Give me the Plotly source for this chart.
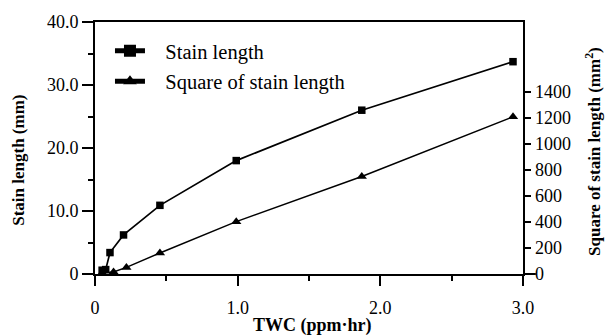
import plotly.graph_objects as go

# Data
twc_sl = [0.05, 0.075, 0.105, 0.20, 0.455, 0.99, 1.87, 2.93]
stain_length = [0.6, 0.7, 3.4, 6.2, 10.9, 18.0, 26.0, 33.7]
twc_sq = [0.05, 0.13, 0.22, 0.455, 0.99, 1.87, 2.93]
square_len = [8, 15, 51, 162, 403, 751, 1210]

x_major = [0, 1, 2, 3]
x_labels = ["0", "1.0", "2.0", "3.0"]
x_minor = [0.5, 1.5, 2.5]
y_major = [0, 10, 20, 30, 40]
y_labels = ["0", "10.0", "20.0", "30.0", "40.0"]
y_minor = [5, 15, 25, 35]
y2_ticks = [0, 200, 400, 600, 800, 1000, 1200, 1400]

SERIF = "Liberation Serif, Times New Roman, serif"
BLACK = "black"

fig = go.Figure()
fig.add_trace(go.Scatter(
    x=twc_sl, y=stain_length, mode="lines+markers",
    name="\u00a0\u00a0\u00a0Stain length", legendgroup="a",
    line=dict(color=BLACK, width=1.7),
    marker=dict(symbol="square", size=7.5, color=BLACK),
    cliponaxis=False,
))
fig.add_trace(go.Scatter(
    x=twc_sq, y=square_len, mode="lines+markers", yaxis="y2",
    name="\u00a0\u00a0\u00a0Square of stain length", legendgroup="b",
    line=dict(color=BLACK, width=1.5),
    marker=dict(symbol="triangle-up", size=9, color=BLACK),
    cliponaxis=False,
))

# short extensions of the frame lines beyond the corners
ext = dict(color=BLACK, width=2)
shapes = [
    dict(type="line", xref="paper", yref="paper", x0=-0.02, x1=0, y0=0, y1=0, line=ext),
    dict(type="line", xref="paper", yref="paper", x0=1, x1=1.03, y0=0, y1=0, line=ext),
    dict(type="line", xref="paper", yref="paper", x0=0, x1=0, y0=-0.035, y1=0, line=ext),
    dict(type="line", xref="paper", yref="paper", x0=1, x1=1, y0=-0.035, y1=0, line=ext),
]

tickfont = dict(family=SERIF, size=18, color=BLACK)
title_font = dict(family=SERIF, size=17, color=BLACK)
TW = 2
TC = BLACK

common = dict(showgrid=False, zeroline=False)

fig.update_layout(
    width=610, height=336,
    margin=dict(l=95, r=87, t=18, b=62),
    paper_bgcolor="white", plot_bgcolor="white",
    font=dict(family=SERIF, color=BLACK),
    showlegend=True,
    legend=dict(x=0.035, y=0.965, xanchor="left", yanchor="top",
                font=dict(family=SERIF, size=20.5, color=BLACK),
                bgcolor="rgba(0,0,0,0)", itemsizing="constant",
                traceorder="grouped", tracegroupgap=1),
    xaxis=dict(range=[0, 3], tickvals=x_major, ticktext=x_labels,
               ticks="outside", ticklen=10, tickwidth=TW, tickcolor=TC,
               ticklabelstandoff=6,
               minor=dict(tickvals=x_minor, ticks="outside", ticklen=5,
                          tickwidth=TW, tickcolor=TC, showgrid=False),
               tickfont=tickfont, showline=True, linewidth=2, linecolor=BLACK,
               mirror=True, **common),
    xaxis3=dict(range=[0, 3], overlaying="x", anchor="y", side="bottom",
                tickvals=x_major, showticklabels=False,
                ticks="inside", ticklen=10, tickwidth=TW, tickcolor=TC,
                minor=dict(tickvals=x_minor, ticks="inside", ticklen=5,
                           tickwidth=TW, tickcolor=TC, showgrid=False),
                showline=False, **common),
    yaxis=dict(range=[0, 40], tickvals=y_major, ticktext=y_labels,
               ticks="outside", ticklen=11, tickwidth=TW, tickcolor=TC,
               minor=dict(tickvals=y_minor, ticks="outside", ticklen=5,
                          tickwidth=TW, tickcolor=TC, showgrid=False),
               tickfont=tickfont, showline=True, linewidth=2, linecolor=BLACK,
               **common),
    yaxis3=dict(range=[0, 40], overlaying="y", anchor="x", side="left",
                tickvals=y_major, showticklabels=False,
                ticks="inside", ticklen=11, tickwidth=TW, tickcolor=TC,
                minor=dict(tickvals=y_minor, ticks="inside", ticklen=5,
                           tickwidth=TW, tickcolor=TC, showgrid=False),
                showline=False, **common),
    yaxis2=dict(range=[0, 1940], tickvals=y2_ticks, overlaying="y", side="right",
                anchor="x", ticks="outside", ticklen=5.5, tickwidth=TW, tickcolor=TC,
                ticklabelstandoff=1,
                tickfont=tickfont, showline=True, linewidth=2, linecolor=BLACK,
                **common),
    yaxis4=dict(range=[0, 1940], tickvals=y2_ticks, overlaying="y", side="right",
                anchor="x", showticklabels=False,
                ticks="inside", ticklen=5.5, tickwidth=TW, tickcolor=TC,
                showline=False, **common),
    shapes=shapes,
    annotations=[
        dict(text="<b>Stain length (mm)</b>", xref="paper", yref="paper",
             x=(19 - 95) / 428, y=(274 - 159) / 256, xanchor="center", yanchor="middle",
             textangle=-90, showarrow=False, font=title_font),
        dict(text="<b>Square of stain length (mm<sup>2</sup>)</b>", xref="paper", yref="paper",
             x=(593 - 95) / 428, y=(274 - 150) / 256, xanchor="center", yanchor="middle",
             textangle=-90, showarrow=False, font=title_font),
        dict(text="<b>TWC (ppm\u00b7hr)</b>", xref="paper", yref="paper",
             x=(312 - 95) / 428, y=(274 - 326) / 256, xanchor="center", yanchor="middle",
             showarrow=False, font=dict(family=SERIF, size=18, color=BLACK)),
    ],
)
fig.update_layout(
    xaxis=dict(tickprefix="<b>", ticksuffix="</b>"),
    yaxis=dict(tickprefix="<b>", ticksuffix="</b>"),
    yaxis2=dict(tickprefix="<b>", ticksuffix="</b>"),
)

fig.write_html("out.html")
